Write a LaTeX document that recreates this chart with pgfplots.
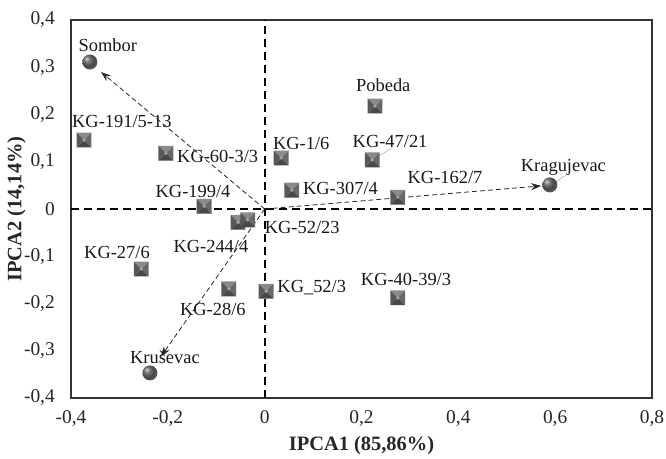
\documentclass[border=0pt]{standalone}
\usepackage{fontspec}
\setmainfont{Liberation Serif}
\usepackage{pgfplots}
\pgfplotsset{compat=1.18}
\usetikzlibrary{arrows.meta}

\definecolor{sqT}{HTML}{8A8A8A}
\definecolor{sqR}{HTML}{686868}
\definecolor{sqB}{HTML}{484848}
\definecolor{sqL}{HTML}{585858}
\definecolor{sqC}{HTML}{A4A4A4}

\pgfdeclareradialshading{gballsh}{\pgfqpoint{-12bp}{12bp}}{color(0bp)=(gray!30);color(9bp)=(gray!95!black);color(20bp)=(black!72);color(30bp)=(black!65);color(50bp)=(black!85)}

\pgfdeclareplotmark{pyr}{%
  \pgfsetfillcolor{sqT}%
  \pgfpathmoveto{\pgfqpoint{-\pgfplotmarksize}{\pgfplotmarksize}}%
  \pgfpathlineto{\pgfqpoint{\pgfplotmarksize}{\pgfplotmarksize}}%
  \pgfpathlineto{\pgfpointorigin}\pgfpathclose\pgfusepath{fill}%
  \pgfsetfillcolor{sqR}%
  \pgfpathmoveto{\pgfqpoint{\pgfplotmarksize}{\pgfplotmarksize}}%
  \pgfpathlineto{\pgfqpoint{\pgfplotmarksize}{-\pgfplotmarksize}}%
  \pgfpathlineto{\pgfpointorigin}\pgfpathclose\pgfusepath{fill}%
  \pgfsetfillcolor{sqB}%
  \pgfpathmoveto{\pgfqpoint{\pgfplotmarksize}{-\pgfplotmarksize}}%
  \pgfpathlineto{\pgfqpoint{-\pgfplotmarksize}{-\pgfplotmarksize}}%
  \pgfpathlineto{\pgfpointorigin}\pgfpathclose\pgfusepath{fill}%
  \pgfsetfillcolor{sqL}%
  \pgfpathmoveto{\pgfqpoint{-\pgfplotmarksize}{-\pgfplotmarksize}}%
  \pgfpathlineto{\pgfqpoint{-\pgfplotmarksize}{\pgfplotmarksize}}%
  \pgfpathlineto{\pgfpointorigin}\pgfpathclose\pgfusepath{fill}%
  \pgfsetfillcolor{sqC}%
  \pgfpathcircle{\pgfpointorigin}{0.25\pgfplotmarksize}\pgfusepath{fill}%
}
\pgfdeclareplotmark{gball}{%
  \pgfpathcircle{\pgfpointorigin}{\pgfplotmarksize}%
  \pgfshadepath{gballsh}{0}%
  \pgfusepath{discard}%
}

\begin{document}
\begin{tikzpicture}
\path (-71bp,-60bp) rectangle (595bp,398bp);
\begin{axis}[
  scale only axis,
  width=581bp, height=378bp,
  xmin=-0.4, xmax=0.8, ymin=-0.4, ymax=0.4,
  xtick={-0.4,-0.2,0,0.2,0.4,0.6,0.8},
  ytick={-0.4,-0.3,-0.2,-0.1,0,0.1,0.2,0.3,0.4},
  major tick length=0pt,
  tick style={draw=none},
  axis line style={draw=black!80, line width=1.1bp},
  /pgf/number format/assume math mode=true,
  /pgf/number format/use comma,
  /pgf/number format/fixed,
  /pgf/number format/precision=1,
  every tick label/.append style={inner sep=0pt, font=\fontsize{19.5}{21}\selectfont, text=black!85},
  yticklabel style={anchor=east, xshift=-16bp},
  xticklabel style={anchor=north, yshift=-12bp},
  xlabel={\textbf{IPCA1 (85,86\%)}},
  ylabel={\textbf{IPCA2 (14,14\%)}},
  x label style={at={(axis description cs:0.5,-0.127)}, anchor=center, font=\fontsize{20.5}{22}\selectfont, text=black!85},
  y label style={at={(axis description cs:-0.094,0.5)}, anchor=center, rotate=0, font=\fontsize{20.5}{22}\selectfont, text=black!85},
  clip=false,
]
% zero lines
\addplot[black, line width=1.9bp, dash pattern=on 8bp off 5bp] coordinates {(-0.4,0) (0.8,0)};
\addplot[black, line width=1.9bp, dash pattern=on 8bp off 5bp] coordinates {(0,-0.4) (0,0.4)};
% genotypes
\addplot[only marks, mark=pyr, mark size=7.4bp] coordinates {
 (-0.373,0.146) (-0.204,0.118) (0.034,0.108) (0.056,0.040)
 (0.228,0.218) (0.222,0.104) (0.275,0.025) (-0.125,0.006)
 (-0.055,-0.028) (-0.035,-0.023) (-0.255,-0.127) (-0.074,-0.169)
 (0.003,-0.174) (0.275,-0.188)};
% arrows
\addplot[black!85, line width=0.8bp, dash pattern=on 5bp off 3bp, -{Stealth[length=10bp,width=7bp]}] coordinates {(0,0) (-0.338,0.290)};
\addplot[black!85, line width=0.8bp, dash pattern=on 5bp off 3bp, -{Stealth[length=10bp,width=7bp]}] coordinates {(0,0) (0.571,0.049)};
\addplot[black!85, line width=0.8bp, dash pattern=on 5bp off 3bp, -{Stealth[length=10bp,width=7bp]}] coordinates {(0,0) (-0.214,-0.312)};
% leader lines
\addplot[black!35, line width=0.5bp] coordinates {(0.232,0.110) (0.262,0.128)};
\addplot[black!35, line width=0.5bp] coordinates {(0.600,0.056) (0.625,0.074)};
% environments
\addplot[only marks, mark=gball, mark size=7.5bp] coordinates {
 (-0.361,0.311) (0.589,0.051) (-0.237,-0.347)};
% labels
\begin{scope}[every node/.style={font=\fontsize{18.5}{20}\selectfont, text=black!90, inner sep=0pt}]
\node at (axis cs:-0.324,0.347) {Sombor};
\node at (axis cs:-0.295,0.186) {KG-191/5-13};
\node[anchor=west] at (axis cs:-0.181,0.112) {KG-60-3/3};
\node[anchor=west] at (axis cs:0.017,0.138) {KG-1/6};
\node[anchor=west] at (axis cs:0.079,0.044) {KG-307/4};
\node at (axis cs:0.245,0.262) {Pobeda};
\node at (axis cs:0.259,0.142) {KG-47/21};
\node at (axis cs:0.3725,0.066) {KG-162/7};
\node at (axis cs:0.617,0.089) {Kragujevac};
\node at (axis cs:-0.148,0.038) {KG-199/4};
\node[anchor=west] at (axis cs:0.0,-0.040) {KG-52/23};
\node at (axis cs:-0.111,-0.080) {KG-244/4};
\node at (axis cs:-0.305,-0.091) {KG-27/6};
\node at (axis cs:-0.107,-0.212) {KG-28/6};
\node[anchor=west] at (axis cs:0.026,-0.167) {KG\_52/3};
\node at (axis cs:0.292,-0.150) {KG-40-39/3};
\node at (axis cs:-0.206,-0.313) {Kruševac};
\end{scope}
\end{axis}
\end{tikzpicture}
\end{document}
